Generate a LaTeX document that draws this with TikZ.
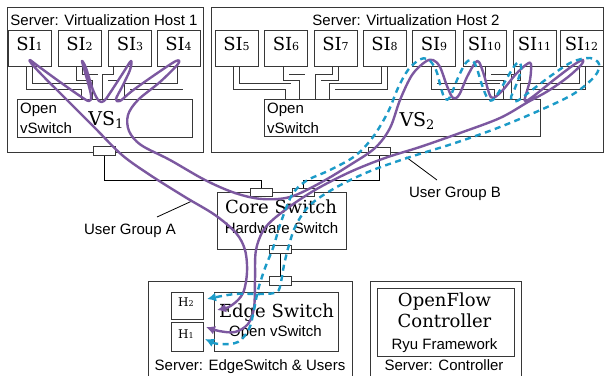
\documentclass[tikz,border=0pt]{standalone}
\usepackage{fontspec}
\newfontfamily\labelsans{Liberation Sans}
\newfontfamily\labelserif{DejaVu Serif}
\usetikzlibrary{arrows.meta,backgrounds}
\definecolor{flowA}{RGB}{124,88,160}
\definecolor{flowB}{RGB}{28,155,200}
\definecolor{linegray}{RGB}{55,55,55}
% index digits: raise amount, size, text
\newcommand{\smallidx}[3]{\raisebox{#1}{\fontsize{#2}{#2}\selectfont #3}}
\begin{document}
\begin{tikzpicture}[x=1pt,y=-1pt,
  server/.style={draw=linegray, line width=1pt, inner sep=0pt},
  box/.style={draw=linegray, line width=0.9pt, fill=white, inner sep=0pt},
  sibox/.style={box, minimum width=43pt, minimum height=36pt},
  port/.style={box, minimum width=22pt, minimum height=8.5pt},
  sans/.style={font=\labelsans\fontsize{15}{17}\selectfont, inner sep=0pt},
  serif/.style={font=\labelserif\fontsize{18}{20}\selectfont, inner sep=0pt},
  cable/.style={draw=linegray, line width=0.8pt, double=white, double distance=5pt},
  wire/.style={draw=black, line width=0.9pt},
  flowa/.style={draw=flowA, line width=2.4pt, line cap=round, line join=round},
  flowb/.style={draw=flowB, line width=2.4pt, dash pattern=on 6pt off 4.5pt},
  both tips/.style={{Latex[length=9pt,width=9pt]}-{Latex[length=9pt,width=9pt]}}
]
\useasboundingbox (0,0) rectangle (605,375);
\begin{pgfonlayer}{background}
  \fill[white] (0,0) rectangle (605,375);
\end{pgfonlayer}

% ---------- servers ----------
\node[server, minimum width=196pt, minimum height=145pt] (host1) at (105,79.5) {};
\node[server, minimum width=392pt, minimum height=145pt] (host2) at (407,79.5) {};
\node[server, minimum width=204pt, minimum height=104pt] (edgesrv) at (250,333) {};
\node[server, minimum width=151pt, minimum height=104pt] (ctrlsrv) at (445.5,333) {};

\node[sans, anchor=base] (t1) at (104,25) {Server: Virtualization Host 1};
\node[sans, anchor=base] (t2) at (406,25) {Server: Virtualization Host 2};

% ---------- service instances ----------
\foreach \i/\x in {1/29.5,2/79.5,3/130,4/178.5,5/236.5,6/286,7/335.5,8/384.5,
                   9/434,10/484.5,11/534.5,12/581.5}{
  \node[sibox] (si\i) at (\x,48) {};
  \node[serif, anchor=base] (sit\i) at (\x,50) {SI\smallidx{0pt}{11}{\i}};
}

% ---------- virtual switches ----------
\node[box, minimum width=175pt, minimum height=38pt] (vs1) at (104.5,118) {};
\node[box, minimum width=276pt, minimum height=37pt] (vs2) at (402,117.5) {};
\node[sans, anchor=base west] (vs1a) at (20,113) {Open};
\node[sans, anchor=base west] (vs1b) at (20,133) {vSwitch};
\node[sans, anchor=base west] (vs2a) at (267,113) {Open};
\node[sans, anchor=base west] (vs2b) at (267,133) {vSwitch};
\node[serif, font=\labelserif\fontsize{19}{21}\selectfont, anchor=base] (vs1t) at (106,125) {VS\smallidx{-3pt}{13}{1}};
\node[serif, font=\labelserif\fontsize{19}{21}\selectfont, anchor=base] (vs2t) at (417,126) {VS\smallidx{-3pt}{13}{2}};

% ---------- cables from instances to the vSwitch ----------
\begin{pgfonlayer}{background}
  \draw[cable] ([yshift=1pt]si1.south)  |- (84,86.5)  -- (84,0 |- vs1.north);
  \draw[cable] ([yshift=1pt]si2.south)  |- (95,77.5)  -- (95,0 |- vs1.north);
  \draw[cable] ([xshift=-14pt,yshift=1pt]si3.south) |- (105,77.5) -- (105,0 |- vs1.north);
  \draw[cable] ([xshift=1.5pt,yshift=1pt]si4.south) |- (127,86.5) -- (127,0 |- vs1.north);
  \draw[cable] ([yshift=1pt]si5.south)  |- (288,86.5) -- (288,0 |- vs2.north);
  \draw[cable] ([yshift=1pt]si6.south)  |- (302,77.5) -- (302,0 |- vs2.north);
  \draw[cable] ([yshift=1pt]si7.south)  |- (318,77.5) -- (318,0 |- vs2.north);
  \draw[cable] ([yshift=1pt]si8.south)  |- (332,86.5) -- (332,0 |- vs2.north);
  \draw[cable] ([yshift=1pt]si9.south)  |- (497,86.5) -- (497,0 |- vs2.north);
  \draw[cable] ([xshift=3.5pt,yshift=1pt]si10.south) |- (506,77.5) -- (506,0 |- vs2.north);
  \draw[cable] ([xshift=-17pt,yshift=1pt]si11.south) |- (514,77.5) -- (514,0 |- vs2.north);
  \draw[cable] ([xshift=1pt,yshift=1pt]si12.south) |- (523,86.5) -- (523,0 |- vs2.north);
\end{pgfonlayer}

% ---------- core switch ----------
\node[box, minimum width=129pt, minimum height=57pt] (core) at (281.5,220.5) {};
\node[serif, anchor=base] (coret) at (281,213) {Core Switch};
\node[sans, anchor=base] (cores) at (281.5,233) {Hardware Switch};

% ---------- edge server ----------
\node[box, minimum width=124pt, minimum height=59pt] (edge) at (276,321.5) {};
\node[serif, anchor=base] (edget) at (276.5,317) {Edge Switch};
\node[sans, anchor=base] (edges) at (275.5,336) {Open vSwitch};
\node[box, minimum width=32pt, minimum height=27pt] (h2) at (187,305.5) {};
\node[box, minimum width=32pt, minimum height=29pt] (h1) at (187,336.5) {};
\node[serif, font=\labelserif\fontsize{12}{14}\selectfont, anchor=base] (h2t) at (186,306.5) {H\smallidx{0pt}{8}{2}};
\node[serif, font=\labelserif\fontsize{12}{14}\selectfont, anchor=base] (h1t) at (186,338) {H\smallidx{0pt}{8}{1}};
\node[sans, anchor=base] (edgesrvt) at (250,370) {Server: EdgeSwitch \& Users};

% ---------- controller ----------
\node[box, minimum width=137pt, minimum height=68pt] (ctrl) at (445.5,322) {};
\node[serif, anchor=base] (ctrl1) at (444.5,306) {OpenFlow};
\node[serif, anchor=base] (ctrl2) at (444.5,327) {Controller};
\node[sans, anchor=base] (ctrl3) at (444.5,349) {Ryu Framework};
\node[sans, anchor=base] (ctrlsrvt) at (444,370) {Server: Controller};

% ---------- ports and physical links ----------
\node[port] (p1) at (104,151) {};
\node[port] (p2) at (379,151.5) {};
\node[port] (pa) at (261.5,192.5) {};
\node[port] (pb) at (303.5,192.5) {};
\node[port] (pc) at (280,249.5) {};
\node[port] (pe) at (280,281) {};
\coordinate (bus) at (0,180);
\draw[wire] (p1.south) -- (p1.south |- bus) -| (pa.north);
\draw[wire] (p2.south) -- (p2.south |- bus) -| (pb.north);
\draw[wire] (pc.south) -- (pe.north);

% ---------- group labels ----------
\node[sans, anchor=base] (grpA) at (130,234) {User Group A};
\node[sans, anchor=base] (grpB) at (455,197) {User Group B};
\coordinate (grpAa) at (157,217);
\coordinate (grpAb) at (192,201);
\coordinate (grpBa) at (437,180);
\coordinate (grpBb) at (406,157);
\draw[line width=0.8pt] (grpAa) -- (grpAb);
\draw[line width=0.8pt] (grpBa) -- (grpBb);

% ---------- traffic of group A ----------
\draw[flowa, both tips] plot[smooth, tension=0.55] coordinates {
 (217,310) (232,305) (243,293) (247,272) (245,250) (236,233) (215,215)
 (185,197) (150,175) (122,155) (95,128) (65,98) (42,75) (31,63) (30,60)
 (38,66) (60,82) (80,96) (89,101) (91,95) (85,72) (82,61) (86,68)
 (93,90) (99,101) (104,101) (110,93) (123,73) (131,61) (130,70)
 (122,87) (116,99) (120,101) (132,91) (156,74) (176,61) (178,64)
 (160,82) (138,100) (128,115) (129,131) (141,145) (170,160) (205,180)
 (235,193) (262,199) (290,197) (320,183) (350,165) (375,148) (390,128)
 (400,100) (412,75) (425,62) (433,60) (440,67) (447,86) (453,98)
 (459,95) (467,77) (475,63) (479,62) (484,75) (489,93) (493,98)
 (502,91) (516,74) (527,64) (531,64) (530,80) (525,98) (526,101)
 (535,95) (555,79) (575,64) (583,60) (581,65) (568,77) (548,91)
 (528,102) (500,118) (460,133) (420,147) (385,158) (350,172) (315,190)
 (285,210) (265,228) (256,250) (255,280) (254,308) (248,324) (235,332)
 (219,331) (206,327)};

% ---------- traffic of group B ----------
\draw[flowb, both tips] plot[smooth, tension=0.55] coordinates {
 (205,339) (220,344) (238,342) (249,329) (254,310) (258,290) (265,268)
 (273,248) (281,222) (292,195) (306,181) (330,170) (355,156) (373,137)
 (388,112) (398,88) (408,70) (419,60) (428,59) (436,70) (441,88)
 (445,99) (450,97) (457,80) (465,64) (471,60) (476,66) (482,85)
 (488,99) (494,99) (503,85) (513,68) (519,62) (521,70) (515,88)
 (511,98) (517,101) (532,90) (552,75) (572,62) (590,58) (599,64)
 (595,76) (575,93) (545,108) (500,127) (455,143) (407,158) (368,172)
 (335,188) (310,205) (296,225) (289,245) (284,265) (281,282) (277,292)
 (262,294) (235,294) (207,299)};
\end{tikzpicture}
\end{document}
